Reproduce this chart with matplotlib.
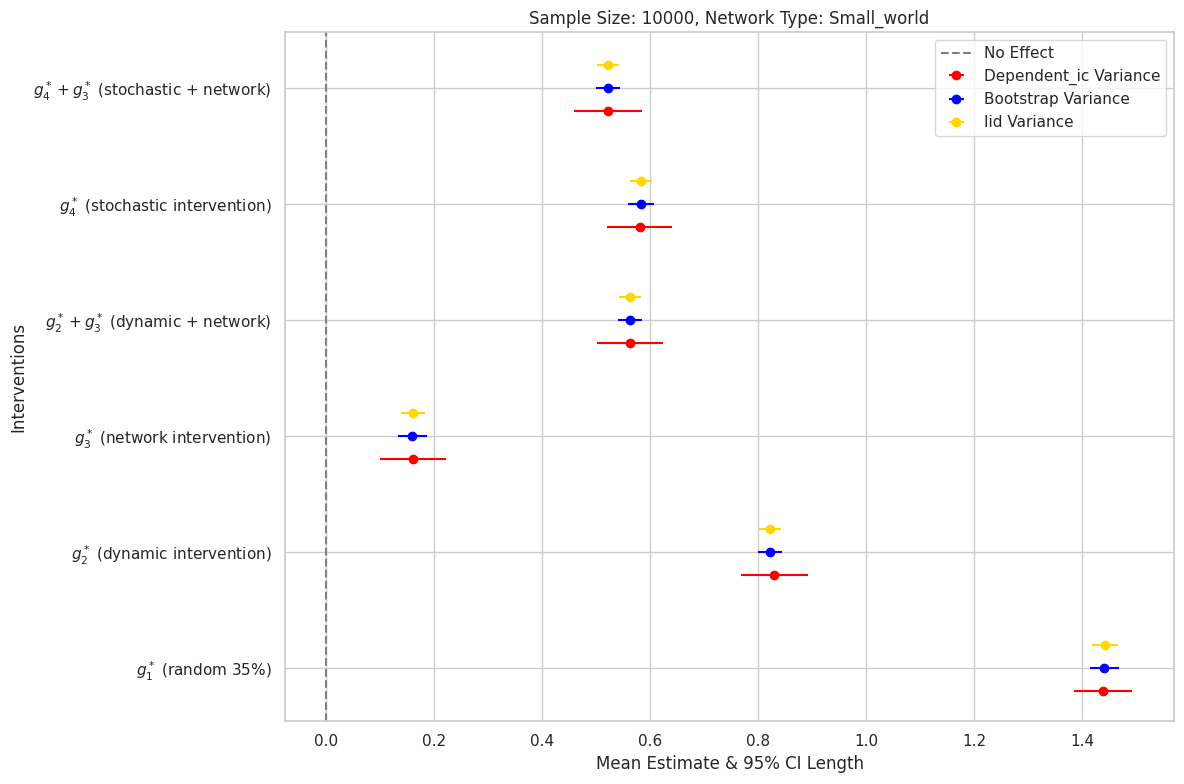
import numpy as np
import matplotlib.pyplot as plt
import seaborn as sns

sns.set_theme(style="whitegrid")

interventions = [
    r"$g_1^*$ (random 35%)",
    r"$g_2^*$ (dynamic intervention)",
    r"$g_3^*$ (network intervention)",
    r"$g_2^* + g_3^*$ (dynamic + network)",
    r"$g_4^*$ (stochastic intervention)",
    r"$g_4^* + g_3^*$ (stochastic + network)",
]
dep_mean = [1.439, 0.830, 0.161, 0.563, 0.581, 0.522]
dep_half = [0.054, 0.062, 0.062, 0.061, 0.060, 0.063]
boot_mean = [1.441, 0.822, 0.160, 0.563, 0.583, 0.522]
boot_half = [0.027, 0.022, 0.027, 0.022, 0.024, 0.022]
iid_mean = [1.443, 0.822, 0.161, 0.563, 0.583, 0.522]
iid_half = [0.024, 0.020, 0.023, 0.020, 0.020, 0.020]

y = np.arange(len(interventions))
fig, ax = plt.subplots(figsize=(11.84, 7.84), dpi=100)

ax.axvline(0, color="gray", linestyle="--", label="No Effect")
ax.errorbar(dep_mean, y - 0.2, xerr=dep_half, fmt="o", color="red", label="Dependent_ic Variance")
ax.errorbar(boot_mean, y, xerr=boot_half, fmt="o", color="blue", label="Bootstrap Variance")
ax.errorbar(iid_mean, y + 0.2, xerr=iid_half, fmt="o", color="gold", label="Iid Variance")

ax.set_yticks(y)
ax.set_yticklabels(interventions)
ax.set_ylim(-0.457, 5.48)
ax.set_xlim(-0.076, 1.57)
ax.set_xlabel("Mean Estimate & 95% CI Length")
ax.set_ylabel("Interventions")
ax.set_title("Sample Size: 10000, Network Type: Small_world")
ax.legend(loc="upper right")

fig.subplots_adjust(left=0.2407, right=0.9916, top=0.959, bottom=0.080)
plt.savefig("out.png")
